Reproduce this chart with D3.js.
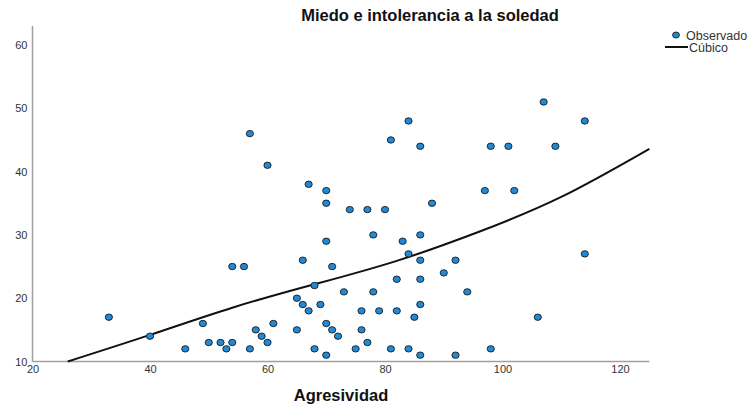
<!DOCTYPE html>
<html><head><meta charset="utf-8">
<script src="https://cdn.jsdelivr.net/npm/d3@7"></script>
<style>body{margin:0;background:#fff}svg{display:block}text{font-family:"Liberation Sans",Arial,sans-serif}</style>
</head><body>
<svg id="c" width="755" height="405"></svg>
<script>
const agresividad = [33,40,46,49,50,52,53,54,54,56,57,57,58,59,60,60,61,65,65,66,66,67,67,68,68,69,70,70,70,70,70,71,71,72,73,74,75,76,76,77,77,78,78,79,80,81,81,82,82,83,84,84,84,85,86,86,86,86,86,86,88,90,92,92,94,97,98,98,101,102,106,107,109,114,114];
const miedo =       [17,14,12,16,13,13,12,13,25,25,46,12,15,14,13,41,16,15,20,26,19,18,38,22,12,19,16,11,29,35,37,15,25,14,21,34,12,15,18,13,34,21,30,18,34,12,45,23,18,29,12,27,48,17,11,19,23,26,30,44,35,24,11,26,21,37,12,44,44,37,17,51,44,48,27];
const cubicX = [26,40,54,68,82,96,110,125];
const cubicY = [10,14.2,18.5,22.2,25.9,30.5,36.0,43.6];
const xTicks = [20,40,60,80,100,120];
const yTicks = [10,20,30,40,50,60];
const title = "Miedo e intolerancia a la soledad";
const xTitle = "Agresividad";
const legendLabels = ["Observado","Cúbico"];

const svg = d3.select("#c");
const x = d3.scaleLinear().domain([20,125]).range([32.5,649.4]);
const y = d3.scaleLinear().domain([10,63]).range([361.5,26]);

// axes
svg.append("line").attr("x1",x(20)).attr("x2",x(125)).attr("y1",y(10)).attr("y2",y(10))
  .attr("stroke","#a0a0a0").attr("stroke-width",1.5);
svg.append("line").attr("x1",x(20)).attr("x2",x(20)).attr("y1",y(10)).attr("y2",y(63))
  .attr("stroke","#a0a0a0").attr("stroke-width",1.5);

const xAxis = d3.axisBottom(x).tickValues(xTicks).tickSize(0).tickPadding(4);
const gx = svg.append("g").attr("transform",`translate(0,${y(10)})`).call(xAxis);
gx.select(".domain").remove();
gx.selectAll("text").attr("font-size",11).attr("fill","#333").attr("font-family","Liberation Sans, Arial, sans-serif");

const yAxis = d3.axisLeft(y).tickValues(yTicks).tickSize(0).tickPadding(5);
const gy = svg.append("g").attr("transform",`translate(${x(20)},0)`).call(yAxis);
gy.select(".domain").remove();
gy.selectAll("text").attr("font-size",11).attr("fill","#333").attr("font-family","Liberation Sans, Arial, sans-serif");

// curve
const curvePts = cubicX.map((v,i)=>[v,cubicY[i]]);
svg.append("path").datum(curvePts)
  .attr("d", d3.line().x(d=>x(d[0])).y(d=>y(d[1])).curve(d3.curveNatural))
  .attr("fill","none").attr("stroke","#111").attr("stroke-width",2);

// points
svg.append("g").selectAll("ellipse").data(agresividad.map((v,i)=>[v,miedo[i]])).join("ellipse")
  .attr("cx",d=>x(d[0])).attr("cy",d=>y(d[1])).attr("rx",3.6).attr("ry",3.2)
  .attr("fill","#1f8ad8").attr("stroke","#1a1a1a").attr("stroke-width",0.9);

// titles
svg.append("text").attr("x",430).attr("y",21).attr("text-anchor","middle")
  .attr("font-size",16.5).attr("font-weight","bold").attr("fill","#111").text(title);
svg.append("text").attr("x",341).attr("y",401).attr("text-anchor","middle")
  .attr("font-size",16.5).attr("font-weight","bold").attr("fill","#111").text(xTitle);

// legend
const lg = svg.append("g");
lg.append("ellipse").attr("cx",676).attr("cy",35).attr("rx",3.4).attr("ry",3)
  .attr("fill","#1f8ad8").attr("stroke","#1a1a1a").attr("stroke-width",0.9);
lg.append("text").attr("x",686).attr("y",39.5).attr("font-size",12.5).attr("fill","#333").text(legendLabels[0]);
lg.append("line").attr("x1",665).attr("x2",688).attr("y1",47).attr("y2",47).attr("stroke","#111").attr("stroke-width",2);
lg.append("text").attr("x",689).attr("y",52).attr("font-size",12.5).attr("fill","#333").text(legendLabels[1]);
</script>
</body></html>
